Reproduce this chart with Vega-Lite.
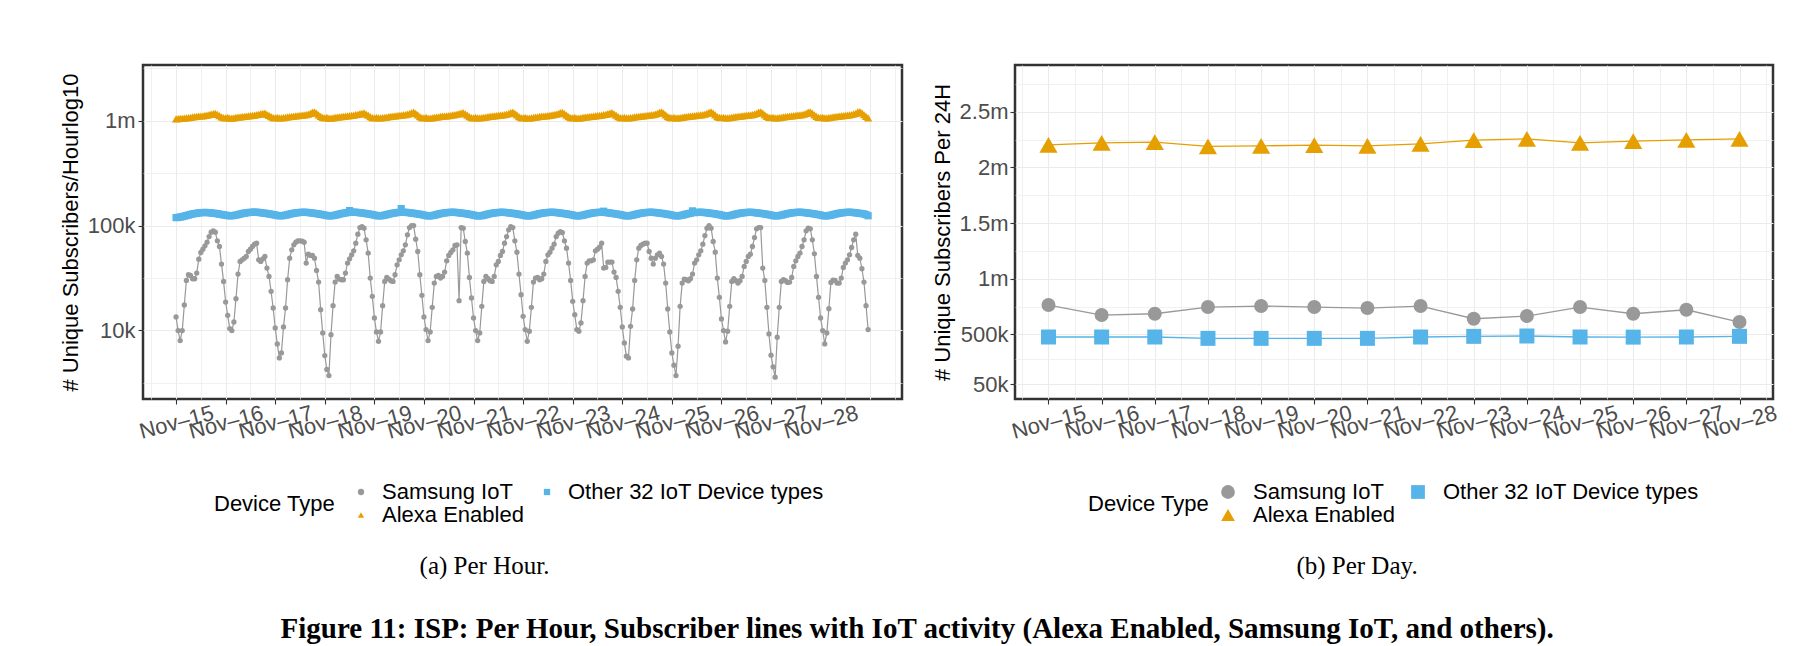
{
"$schema": "https://vega.github.io/schema/vega-lite/v6.json",
"background": "white",
"padding": {"left": 58, "top": 55, "right": 5, "bottom": 0},
"config": {
  "font": "Liberation Sans",
  "view": {"stroke": "#333333", "strokeWidth": 2.5},
  "axis": {"labelFont": "Liberation Sans", "labelFontSize": 22, "labelColor": "#4D4D4D", "titleFont": "Liberation Sans", "titleFontSize": 22, "titleColor": "#000000", "titleFontWeight": "normal", "tickColor": "#333333", "tickWidth": 1.1, "tickSize": 5, "gridColor": "#EBEBEB", "domain": false, "labelOverlap": false, "labelFlush": false, "labelBound": false},
  "legend": {"labelFont": "Liberation Sans", "titleFont": "Liberation Sans", "labelFontSize": 22, "titleFontSize": 22, "labelColor": "#000000", "titleColor": "#000000", "titleFontWeight": "normal", "labelLimit": 400}
},
"datasets": {
"hourly": [
{"h":0,"s":13450,"a":1040000,"o":119000},{"h":1,"s":9970,"a":1046000,"o":119500},{"h":2,"s":8010,"a":1048000,"o":120500},{"h":3,"s":9970,"a":1050000,"o":121500},{"h":4,"s":17490,"a":1054000,"o":123000},{"h":5,"s":30010,"a":1062000,"o":124500},{"h":6,"s":33970,"a":1069000,"o":126000},{"h":7,"s":33480,"a":1076000,"o":127500},{"h":8,"s":31120,"a":1083000,"o":129000},{"h":9,"s":31120,"a":1089000,"o":130000},{"h":10,"s":35230,"a":1095000,"o":131000},{"h":11,"s":47860,"a":1101000,"o":132000},{"h":12,"s":55370,"a":1107000,"o":132500},{"h":13,"s":59560,"a":1113000,"o":133000},{"h":14,"s":64080,"a":1120000,"o":133500},{"h":15,"s":69450,"a":1128000,"o":133000},{"h":16,"s":78600,"a":1139000,"o":132500},{"h":17,"s":86400,"a":1153000,"o":132000},{"h":18,"s":89000,"a":1165000,"o":131000},{"h":19,"s":86400,"a":1175000,"o":130500},{"h":20,"s":71500,"a":1145000,"o":129500},{"h":21,"s":63150,"a":1118000,"o":128500},{"h":22,"s":42900,"a":1085000,"o":127500},{"h":23,"s":29360,"a":1066000,"o":126500},
{"h":24,"s":18670,"a":1062000,"o":125500},{"h":25,"s":13940,"a":1072000,"o":124500},{"h":26,"s":10420,"a":1058000,"o":123800},{"h":27,"s":9970,"a":1058000,"o":124000},{"h":28,"s":12050,"a":1064000,"o":124800},{"h":29,"s":20090,"a":1072000,"o":125800},{"h":30,"s":34470,"a":1080000,"o":127200},{"h":31,"s":45480,"a":1087000,"o":128700},{"h":32,"s":47160,"a":1094000,"o":130200},{"h":33,"s":48920,"a":1100000,"o":131200},{"h":34,"s":50740,"a":1106000,"o":132200},{"h":35,"s":56600,"a":1112000,"o":133000},{"h":36,"s":59560,"a":1118000,"o":133600},{"h":37,"s":63150,"a":1124000,"o":134000},{"h":38,"s":66460,"a":1131000,"o":134300},{"h":39,"s":67950,"a":1139000,"o":134000},{"h":40,"s":47160,"a":1150000,"o":133300},{"h":41,"s":45480,"a":1165000,"o":132600},{"h":42,"s":48210,"a":1170000,"o":131800},{"h":43,"s":50740,"a":1180000,"o":131000},{"h":44,"s":39310,"a":1150000,"o":130200},{"h":45,"s":32760,"a":1125000,"o":129200},{"h":46,"s":23590,"a":1090000,"o":128200},{"h":47,"s":16370,"a":1068000,"o":127200},
{"h":48,"s":10570,"a":1065000,"o":126000},{"h":49,"s":7450,"a":1075000,"o":124800},{"h":50,"s":5480,"a":1061000,"o":123800},{"h":51,"s":6115,"a":1061000,"o":124000},{"h":52,"s":10800,"a":1067000,"o":124600},{"h":53,"s":16370,"a":1075000,"o":125600},{"h":54,"s":30450,"a":1083000,"o":127000},{"h":55,"s":48920,"a":1090000,"o":128500},{"h":56,"s":58700,"a":1097000,"o":130000},{"h":57,"s":65500,"a":1103000,"o":131000},{"h":58,"s":69450,"a":1109000,"o":132000},{"h":59,"s":71500,"a":1115000,"o":132800},{"h":60,"s":71500,"a":1121000,"o":133300},{"h":61,"s":71000,"a":1127000,"o":133800},{"h":62,"s":69450,"a":1134000,"o":134000},{"h":63,"s":43850,"a":1142000,"o":133600},{"h":64,"s":53400,"a":1155000,"o":133000},{"h":65,"s":51860,"a":1172000,"o":132300},{"h":66,"s":51860,"a":1205000,"o":131500},{"h":67,"s":48920,"a":1215000,"o":130800},{"h":68,"s":37360,"a":1180000,"o":130000},{"h":69,"s":28930,"a":1135000,"o":129000},{"h":70,"s":15800,"a":1095000,"o":128000},{"h":71,"s":9475,"a":1072000,"o":127000},
{"h":72,"s":5770,"a":1063000,"o":125800},{"h":73,"s":4250,"a":1073000,"o":124600},{"h":74,"s":3720,"a":1059000,"o":123600},{"h":75,"s":9130,"a":1058000,"o":123800},{"h":76,"s":17240,"a":1064000,"o":124500},{"h":77,"s":28930,"a":1072000,"o":125500},{"h":78,"s":32760,"a":1080000,"o":127000},{"h":79,"s":30900,"a":1087000,"o":128500},{"h":80,"s":30450,"a":1094000,"o":130000},{"h":81,"s":30450,"a":1100000,"o":131000},{"h":82,"s":35230,"a":1106000,"o":132000},{"h":83,"s":43850,"a":1112000,"o":133000},{"h":84,"s":48210,"a":1118000,"o":139000},{"h":85,"s":52620,"a":1124000,"o":134000},{"h":86,"s":57430,"a":1131000,"o":134200},{"h":87,"s":67950,"a":1139000,"o":133800},{"h":88,"s":82700,"a":1150000,"o":133200},{"h":89,"s":95700,"a":1165000,"o":132500},{"h":90,"s":97800,"a":1175000,"o":131700},{"h":91,"s":94300,"a":1185000,"o":130900},{"h":92,"s":73100,"a":1155000,"o":130100},{"h":93,"s":54580,"a":1128000,"o":129100},{"h":94,"s":31580,"a":1091000,"o":128100},{"h":95,"s":21140,"a":1069000,"o":127100},
{"h":96,"s":13160,"a":1064000,"o":125900},{"h":97,"s":9680,"a":1074000,"o":124600},{"h":98,"s":7890,"a":1060000,"o":123600},{"h":99,"s":9680,"a":1060000,"o":123800},{"h":100,"s":17240,"a":1066000,"o":124600},{"h":101,"s":29360,"a":1074000,"o":125600},{"h":102,"s":32050,"a":1082000,"o":127100},{"h":103,"s":30900,"a":1089000,"o":128600},{"h":104,"s":29790,"a":1096000,"o":130100},{"h":105,"s":29360,"a":1102000,"o":131100},{"h":106,"s":33970,"a":1108000,"o":132100},{"h":107,"s":42280,"a":1114000,"o":133000},{"h":108,"s":47160,"a":1120000,"o":133500},{"h":109,"s":52620,"a":1126000,"o":145000},{"h":110,"s":57430,"a":1133000,"o":134200},{"h":111,"s":65500,"a":1141000,"o":133700},{"h":112,"s":81530,"a":1153000,"o":133100},{"h":113,"s":95700,"a":1169000,"o":132400},{"h":114,"s":100000,"a":1195000,"o":131600},{"h":115,"s":100000,"a":1205000,"o":130800},{"h":116,"s":74200,"a":1172000,"o":130000},{"h":117,"s":56600,"a":1132000,"o":129000},{"h":118,"s":33970,"a":1093000,"o":128000},{"h":119,"s":21610,"a":1071000,"o":127000},
{"h":120,"s":13450,"a":1062000,"o":125800},{"h":121,"s":10190,"a":1072000,"o":124500},{"h":122,"s":8010,"a":1058000,"o":123500},{"h":123,"s":9680,"a":1059000,"o":123700},{"h":124,"s":16620,"a":1065000,"o":124500},{"h":125,"s":28300,"a":1073000,"o":125500},{"h":126,"s":32760,"a":1081000,"o":127000},{"h":127,"s":33480,"a":1088000,"o":128500},{"h":128,"s":31580,"a":1095000,"o":130000},{"h":129,"s":32760,"a":1101000,"o":131000},{"h":130,"s":36000,"a":1107000,"o":132000},{"h":131,"s":46140,"a":1113000,"o":132800},{"h":132,"s":51860,"a":1119000,"o":133300},{"h":133,"s":55370,"a":1125000,"o":133800},{"h":134,"s":58700,"a":1132000,"o":134000},{"h":135,"s":64550,"a":1140000,"o":133600},{"h":136,"s":65500,"a":1151000,"o":133000},{"h":137,"s":19230,"a":1166000,"o":132300},{"h":138,"s":95700,"a":1180000,"o":131500},{"h":139,"s":94300,"a":1190000,"o":130800},{"h":140,"s":70450,"a":1160000,"o":130000},{"h":141,"s":54580,"a":1129000,"o":129000},{"h":142,"s":32050,"a":1091000,"o":128000},{"h":143,"s":20390,"a":1070000,"o":127000},
{"h":144,"s":13160,"a":1064000,"o":125800},{"h":145,"s":9970,"a":1074000,"o":124500},{"h":146,"s":8010,"a":1060000,"o":123400},{"h":147,"s":9475,"a":1060000,"o":123600},{"h":148,"s":16980,"a":1066000,"o":124400},{"h":149,"s":29360,"a":1074000,"o":125400},{"h":150,"s":32760,"a":1082000,"o":126900},{"h":151,"s":31120,"a":1089000,"o":128400},{"h":152,"s":29790,"a":1096000,"o":129900},{"h":153,"s":29360,"a":1102000,"o":130900},{"h":154,"s":32760,"a":1108000,"o":131900},{"h":155,"s":42280,"a":1114000,"o":132700},{"h":156,"s":45480,"a":1120000,"o":133200},{"h":157,"s":51860,"a":1126000,"o":133700},{"h":158,"s":56600,"a":1133000,"o":133900},{"h":159,"s":67950,"a":1141000,"o":133500},{"h":160,"s":78600,"a":1153000,"o":132900},{"h":161,"s":90960,"a":1169000,"o":132200},{"h":162,"s":97800,"a":1195000,"o":131400},{"h":163,"s":95700,"a":1205000,"o":130700},{"h":164,"s":71500,"a":1172000,"o":129900},{"h":165,"s":55780,"a":1132000,"o":128900},{"h":166,"s":34470,"a":1093000,"o":127900},{"h":167,"s":21930,"a":1071000,"o":126900},
{"h":168,"s":13650,"a":1063000,"o":125700},{"h":169,"s":10190,"a":1073000,"o":124400},{"h":170,"s":7890,"a":1059000,"o":123400},{"h":171,"s":9830,"a":1059000,"o":123600},{"h":172,"s":16620,"a":1065000,"o":124400},{"h":173,"s":28930,"a":1073000,"o":125400},{"h":174,"s":31580,"a":1081000,"o":126900},{"h":175,"s":32050,"a":1088000,"o":128400},{"h":176,"s":30450,"a":1095000,"o":129900},{"h":177,"s":31120,"a":1101000,"o":130900},{"h":178,"s":34470,"a":1107000,"o":131900},{"h":179,"s":45480,"a":1113000,"o":132700},{"h":180,"s":52620,"a":1119000,"o":133200},{"h":181,"s":55780,"a":1125000,"o":133700},{"h":182,"s":60890,"a":1132000,"o":134000},{"h":183,"s":66460,"a":1140000,"o":133600},{"h":184,"s":78600,"a":1152000,"o":133000},{"h":185,"s":84600,"a":1168000,"o":132300},{"h":186,"s":87700,"a":1190000,"o":131500},{"h":187,"s":85800,"a":1200000,"o":130800},{"h":188,"s":71500,"a":1168000,"o":130000},{"h":189,"s":60890,"a":1131000,"o":129000},{"h":190,"s":43850,"a":1092000,"o":128000},{"h":191,"s":30010,"a":1070000,"o":127000},
{"h":192,"s":18960,"a":1062000,"o":125800},{"h":193,"s":14150,"a":1072000,"o":124500},{"h":194,"s":10190,"a":1058000,"o":123500},{"h":195,"s":9830,"a":1058000,"o":123700},{"h":196,"s":11790,"a":1064000,"o":124500},{"h":197,"s":19230,"a":1072000,"o":125500},{"h":198,"s":32760,"a":1080000,"o":127000},{"h":199,"s":43850,"a":1087000,"o":128500},{"h":200,"s":46140,"a":1094000,"o":130000},{"h":201,"s":46140,"a":1100000,"o":131000},{"h":202,"s":47160,"a":1106000,"o":132000},{"h":203,"s":57430,"a":1112000,"o":132800},{"h":204,"s":59560,"a":1118000,"o":133300},{"h":205,"s":62230,"a":1124000,"o":133800},{"h":206,"s":67950,"a":1131000,"o":134000},{"h":207,"s":39310,"a":1139000,"o":137000},{"h":208,"s":39890,"a":1150000,"o":133200},{"h":209,"s":44820,"a":1166000,"o":132400},{"h":210,"s":44820,"a":1180000,"o":131600},{"h":211,"s":44820,"a":1190000,"o":130800},{"h":212,"s":36000,"a":1160000,"o":130000},{"h":213,"s":32050,"a":1129000,"o":129000},{"h":214,"s":23590,"a":1091000,"o":128000},{"h":215,"s":16620,"a":1069000,"o":127000},
{"h":216,"s":10800,"a":1065000,"o":125800},{"h":217,"s":7610,"a":1075000,"o":124500},{"h":218,"s":5685,"a":1061000,"o":123500},{"h":219,"s":5480,"a":1061000,"o":123700},{"h":220,"s":10960,"a":1067000,"o":124500},{"h":221,"s":16020,"a":1075000,"o":125500},{"h":222,"s":30010,"a":1083000,"o":127000},{"h":223,"s":47160,"a":1090000,"o":128500},{"h":224,"s":60890,"a":1097000,"o":130000},{"h":225,"s":64550,"a":1103000,"o":131000},{"h":226,"s":66460,"a":1109000,"o":132000},{"h":227,"s":67950,"a":1115000,"o":132800},{"h":228,"s":67950,"a":1121000,"o":133300},{"h":229,"s":56600,"a":1127000,"o":133800},{"h":230,"s":48920,"a":1134000,"o":134000},{"h":231,"s":42900,"a":1142000,"o":133600},{"h":232,"s":48920,"a":1155000,"o":133000},{"h":233,"s":52620,"a":1171000,"o":132300},{"h":234,"s":54580,"a":1200000,"o":131500},{"h":235,"s":50740,"a":1210000,"o":130800},{"h":236,"s":42900,"a":1176000,"o":130000},{"h":237,"s":28300,"a":1134000,"o":129000},{"h":238,"s":16020,"a":1094000,"o":128000},{"h":239,"s":9680,"a":1072000,"o":127000},
{"h":240,"s":6115,"a":1065000,"o":125800},{"h":241,"s":4670,"a":1075000,"o":124500},{"h":242,"s":3720,"a":1061000,"o":123500},{"h":243,"s":7080,"a":1061000,"o":123700},{"h":244,"s":16980,"a":1067000,"o":124500},{"h":245,"s":28300,"a":1075000,"o":125500},{"h":246,"s":30900,"a":1083000,"o":127000},{"h":247,"s":30450,"a":1090000,"o":128500},{"h":248,"s":29790,"a":1097000,"o":130000},{"h":249,"s":31120,"a":1103000,"o":131000},{"h":250,"s":34470,"a":1109000,"o":138000},{"h":251,"s":43850,"a":1115000,"o":132800},{"h":252,"s":47160,"a":1121000,"o":133300},{"h":253,"s":52620,"a":1127000,"o":133800},{"h":254,"s":57430,"a":1134000,"o":134000},{"h":255,"s":66460,"a":1142000,"o":133600},{"h":256,"s":80350,"a":1155000,"o":133000},{"h":257,"s":94300,"a":1171000,"o":132300},{"h":258,"s":100000,"a":1200000,"o":131500},{"h":259,"s":94300,"a":1210000,"o":130800},{"h":260,"s":70450,"a":1176000,"o":130000},{"h":261,"s":55780,"a":1134000,"o":129000},{"h":262,"s":31580,"a":1094000,"o":128000},{"h":263,"s":20680,"a":1072000,"o":127000},
{"h":264,"s":12870,"a":1066000,"o":125700},{"h":265,"s":9970,"a":1076000,"o":124400},{"h":266,"s":7780,"a":1062000,"o":123400},{"h":267,"s":9830,"a":1062000,"o":123600},{"h":268,"s":16980,"a":1068000,"o":124400},{"h":269,"s":29360,"a":1076000,"o":125400},{"h":270,"s":31120,"a":1084000,"o":126900},{"h":271,"s":29790,"a":1091000,"o":128400},{"h":272,"s":28300,"a":1098000,"o":129900},{"h":273,"s":29790,"a":1104000,"o":130900},{"h":274,"s":32760,"a":1110000,"o":131900},{"h":275,"s":40770,"a":1116000,"o":132700},{"h":276,"s":45480,"a":1122000,"o":133200},{"h":277,"s":50740,"a":1128000,"o":133700},{"h":278,"s":53400,"a":1135000,"o":133900},{"h":279,"s":63150,"a":1143000,"o":133500},{"h":280,"s":76900,"a":1156000,"o":132900},{"h":281,"s":93000,"a":1173000,"o":132200},{"h":282,"s":95700,"a":1205000,"o":131400},{"h":283,"s":95700,"a":1215000,"o":130700},{"h":284,"s":39310,"a":1180000,"o":129900},{"h":285,"s":30010,"a":1136000,"o":128900},{"h":286,"s":16620,"a":1095000,"o":127900},{"h":287,"s":9270,"a":1073000,"o":126900},
{"h":288,"s":5810,"a":1066000,"o":125800},{"h":289,"s":4500,"a":1076000,"o":124500},{"h":290,"s":3590,"a":1062000,"o":123500},{"h":291,"s":8620,"a":1062000,"o":123700},{"h":292,"s":16620,"a":1068000,"o":124500},{"h":293,"s":29360,"a":1076000,"o":125500},{"h":294,"s":30450,"a":1084000,"o":127000},{"h":295,"s":29790,"a":1091000,"o":128500},{"h":296,"s":28720,"a":1098000,"o":130000},{"h":297,"s":28930,"a":1104000,"o":131000},{"h":298,"s":32050,"a":1110000,"o":132000},{"h":299,"s":40770,"a":1116000,"o":132800},{"h":300,"s":46140,"a":1122000,"o":133300},{"h":301,"s":50740,"a":1128000,"o":133800},{"h":302,"s":54580,"a":1135000,"o":134000},{"h":303,"s":63150,"a":1143000,"o":133600},{"h":304,"s":73100,"a":1156000,"o":133000},{"h":305,"s":89000,"a":1173000,"o":132300},{"h":306,"s":94300,"a":1205000,"o":131500},{"h":307,"s":93000,"a":1215000,"o":130800},{"h":308,"s":73100,"a":1180000,"o":130000},{"h":309,"s":53800,"a":1136000,"o":129000},{"h":310,"s":32760,"a":1095000,"o":128000},{"h":311,"s":20680,"a":1073000,"o":127000},
{"h":312,"s":13160,"a":1067000,"o":125800},{"h":313,"s":9970,"a":1077000,"o":124500},{"h":314,"s":7450,"a":1063000,"o":123500},{"h":315,"s":9475,"a":1063000,"o":123700},{"h":316,"s":16140,"a":1069000,"o":124500},{"h":317,"s":28720,"a":1077000,"o":125500},{"h":318,"s":30230,"a":1085000,"o":127000},{"h":319,"s":30010,"a":1092000,"o":128500},{"h":320,"s":28300,"a":1099000,"o":130000},{"h":321,"s":28300,"a":1105000,"o":131000},{"h":322,"s":31580,"a":1111000,"o":132000},{"h":323,"s":39890,"a":1117000,"o":132800},{"h":324,"s":43850,"a":1123000,"o":133300},{"h":325,"s":47160,"a":1129000,"o":133800},{"h":326,"s":52620,"a":1136000,"o":134000},{"h":327,"s":61780,"a":1144000,"o":133600},{"h":328,"s":73100,"a":1157000,"o":133000},{"h":329,"s":82700,"a":1174000,"o":132300},{"h":330,"s":51860,"a":1210000,"o":131500},{"h":331,"s":48920,"a":1220000,"o":130800},{"h":332,"s":38750,"a":1185000,"o":130000},{"h":333,"s":28930,"a":1140000,"o":129000},{"h":334,"s":17240,"a":1098000,"o":127000},{"h":335,"s":10190,"a":1062000,"o":124000}
],
"daily": [
{"day":0,"s":763200,"a":2203500,"o":476000},{"day":1,"s":673400,"a":2221500,"o":476000},{"day":2,"s":685100,"a":2227800,"o":476000},{"day":3,"s":745300,"a":2189100,"o":464000},{"day":4,"s":754300,"a":2194500,"o":464000},{"day":5,"s":745300,"a":2200800,"o":464000},{"day":6,"s":736300,"a":2194500,"o":464000},{"day":7,"s":754300,"a":2212500,"o":476000},{"day":8,"s":640200,"a":2245700,"o":482000},{"day":9,"s":664400,"a":2257400,"o":485000},{"day":10,"s":745300,"a":2221500,"o":476000},{"day":11,"s":685100,"a":2236700,"o":475000},{"day":12,"s":721000,"a":2248400,"o":476000},{"day":13,"s":610500,"a":2257400,"o":482000}
]
},
"title": {"text": "Figure 11: ISP: Per Hour, Subscriber lines with IoT activity (Alexa Enabled, Samsung IoT, and others).", "orient": "bottom", "anchor": "middle", "baseline": "top", "font": "Liberation Serif", "fontSize": 29, "fontWeight": "bold", "color": "#000000", "offset": 35, "dx": -2},
"spacing": 25,
"resolve": {"scale": {"x": "independent", "y": "independent", "color": "independent", "shape": "independent"}, "legend": {"color": "independent", "shape": "independent"}},
"hconcat": [
{
  "width": 759, "height": 334,
  "data": {"name": "hourly"},
  "transform": [{"fold": ["s", "a", "o"], "as": ["key", "value"]}],
  "title": {"text": "(a) Per Hour.", "orient": "bottom", "anchor": "middle", "baseline": "top", "font": "Liberation Serif", "fontSize": 25, "fontWeight": "normal", "color": "#000000", "dx": -38, "offset": 28},
  "encoding": {
    "x": {"field": "h", "type": "quantitative", "scale": {"domain": [-16, 351.4], "nice": false, "zero": false},
      "axis": {"title": null, "values": [-12,0,12,24,36,48,60,72,84,96,108,120,132,144,156,168,180,192,204,216,228,240,252,264,276,288,300,312,324,336,348],
        "labelExpr": "datum.value >= 0 && datum.value <= 312 && datum.value % 24 == 0 ? 'Nov–' + (15 + datum.value / 24) : ''",
        "labelAngle": -15, "labelAlign": "center", "labelBaseline": "middle", "labelPadding": 18, "labelDx": 3,
        "tickOpacity": {"condition": {"test": "datum.value >= 0 && datum.value <= 312 && datum.value % 24 == 0", "value": 1}, "value": 0},
        "gridWidth": {"condition": {"test": "datum.value % 24 == 0", "value": 1.1}, "value": 0.7}}},
    "y": {"field": "value", "type": "quantitative", "scale": {"type": "log", "domain": [2223, 3390000], "nice": false},
      "axis": {"title": "# Unique Subscribers/Hourlog10", "values": [3162.2777, 10000, 31622.777, 100000, 316227.77, 1000000, 3162277.7],
        "labelExpr": "datum.value == 10000 ? '10k' : datum.value == 100000 ? '100k' : datum.value == 1000000 ? '1m' : ''",
        "labelPadding": 3, "titlePadding": 5,
        "tickOpacity": {"condition": {"test": "datum.value == 10000 || datum.value == 100000 || datum.value == 1000000", "value": 1}, "value": 0},
        "gridWidth": {"condition": {"test": "datum.value == 10000 || datum.value == 100000 || datum.value == 1000000", "value": 1.1}, "value": 0.7}}}
  },
  "layer": [
    {"mark": {"type": "line", "strokeWidth": 1.2},
     "encoding": {"detail": {"field": "key", "type": "nominal"},
       "stroke": {"condition": [{"test": "datum.key == 's'", "value": "#999999"}, {"test": "datum.key == 'o'", "value": "#56B4E9"}], "value": "#E69F00"}}},
    {"mark": {"type": "point", "filled": true, "opacity": 1},
     "encoding": {
       "color": {"field": "key", "type": "nominal", "scale": {"domain": ["s", "a", "o"], "range": ["#999999", "#E69F00", "#56B4E9"]},
         "legend": {"title": "Device Type", "orient": "none", "legendX": 71, "legendY": 416, "titleOrient": "left", "titleAnchor": "middle", "titleBaseline": "middle", "titlePadding": 14, "columns": 2, "columnPadding": 12, "rowPadding": 1, "symbolSize": 40, "labelOffset": 10, "symbolOpacity": 1,
           "labelExpr": "datum.label == 's' ? 'Samsung IoT' : datum.label == 'a' ? 'Alexa Enabled' : 'Other 32 IoT Device types'"}},
       "shape": {"field": "key", "type": "nominal", "scale": {"domain": ["s", "a", "o"], "range": ["circle", "triangle-up", "square"]},
         "legend": {"title": "Device Type", "orient": "none", "legendX": 71, "legendY": 416, "titleOrient": "left", "titleAnchor": "middle", "titleBaseline": "middle", "titlePadding": 14, "columns": 2, "columnPadding": 12, "rowPadding": 1, "symbolSize": 40, "labelOffset": 10, "symbolOpacity": 1,
           "labelExpr": "datum.label == 's' ? 'Samsung IoT' : datum.label == 'a' ? 'Alexa Enabled' : 'Other 32 IoT Device types'"}},
       "size": {"condition": [{"test": "datum.key == 's'", "value": 28}, {"test": "datum.key == 'o'", "value": 52}], "value": 70}
     }}
  ]
},
{
  "width": 758, "height": 334,
  "data": {"name": "daily"},
  "transform": [{"fold": ["s", "a", "o"], "as": ["key", "value"]}],
  "title": {"text": "(b) Per Day.", "orient": "bottom", "anchor": "middle", "baseline": "top", "font": "Liberation Serif", "fontSize": 25, "fontWeight": "normal", "color": "#000000", "dx": -37, "offset": 28},
  "encoding": {
    "x": {"field": "day", "type": "quantitative", "scale": {"domain": [-0.63, 13.63], "nice": false, "zero": false},
      "axis": {"title": null, "values": [-0.5,0,0.5,1,1.5,2,2.5,3,3.5,4,4.5,5,5.5,6,6.5,7,7.5,8,8.5,9,9.5,10,10.5,11,11.5,12,12.5,13,13.5],
        "labelExpr": "datum.value >= 0 && datum.value % 1 == 0 ? 'Nov–' + (15 + datum.value) : ''",
        "labelAngle": -15, "labelAlign": "center", "labelBaseline": "middle", "labelPadding": 18, "labelDx": 3,
        "tickOpacity": {"condition": {"test": "datum.value >= 0 && datum.value % 1 == 0", "value": 1}, "value": 0},
        "gridWidth": {"condition": {"test": "datum.value % 1 == 0", "value": 1.1}, "value": 0.7}}},
    "y": {"field": "value", "type": "quantitative", "scale": {"domain": [-81300, 2921400], "nice": false, "zero": false},
      "axis": {"title": "# Unique Subscribers Per 24H", "values": [50000, 275000, 500000, 750000, 1000000, 1250000, 1500000, 1750000, 2000000, 2250000, 2500000, 2750000],
        "labelExpr": "datum.value == 50000 ? '50k' : datum.value == 500000 ? '500k' : datum.value == 1000000 ? '1m' : datum.value == 1500000 ? '1.5m' : datum.value == 2000000 ? '2m' : datum.value == 2500000 ? '2.5m' : ''",
        "labelPadding": 2, "titlePadding": 5,
        "tickOpacity": {"condition": {"test": "datum.value == 50000 || datum.value == 500000 || datum.value == 1000000 || datum.value == 1500000 || datum.value == 2000000 || datum.value == 2500000", "value": 1}, "value": 0},
        "gridWidth": {"condition": {"test": "datum.value == 50000 || datum.value == 500000 || datum.value == 1000000 || datum.value == 1500000 || datum.value == 2000000 || datum.value == 2500000", "value": 1.1}, "value": 0.7}}}
  },
  "layer": [
    {"mark": {"type": "line", "strokeWidth": 1.3},
     "encoding": {"detail": {"field": "key", "type": "nominal"},
       "stroke": {"condition": [{"test": "datum.key == 's'", "value": "#999999"}, {"test": "datum.key == 'o'", "value": "#56B4E9"}], "value": "#E69F00"}}},
    {"mark": {"type": "point", "filled": true, "opacity": 1},
     "encoding": {
       "color": {"field": "key", "type": "nominal", "scale": {"domain": ["s", "a", "o"], "range": ["#999999", "#E69F00", "#56B4E9"]},
         "legend": {"title": "Device Type", "orient": "none", "legendX": 73, "legendY": 416, "titleOrient": "left", "titleAnchor": "middle", "titleBaseline": "middle", "titlePadding": 7, "columns": 2, "columnPadding": 12, "rowPadding": 1, "symbolSize": 190, "labelOffset": 14, "symbolOpacity": 1,
           "labelExpr": "datum.label == 's' ? 'Samsung IoT' : datum.label == 'a' ? 'Alexa Enabled' : 'Other 32 IoT Device types'"}},
       "shape": {"field": "key", "type": "nominal", "scale": {"domain": ["s", "a", "o"], "range": ["circle", "triangle-up", "square"]},
         "legend": {"title": "Device Type", "orient": "none", "legendX": 73, "legendY": 416, "titleOrient": "left", "titleAnchor": "middle", "titleBaseline": "middle", "titlePadding": 7, "columns": 2, "columnPadding": 12, "rowPadding": 1, "symbolSize": 190, "labelOffset": 14, "symbolOpacity": 1,
           "labelExpr": "datum.label == 's' ? 'Samsung IoT' : datum.label == 'a' ? 'Alexa Enabled' : 'Other 32 IoT Device types'"}},
       "size": {"condition": [{"test": "datum.key == 's'", "value": 196}, {"test": "datum.key == 'o'", "value": 225}], "value": 330}
     }}
  ]
}
]
}
